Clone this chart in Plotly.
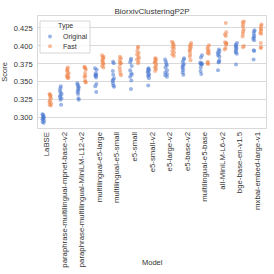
import plotly.graph_objects as go

models = [
    "LaBSE",
    "paraphrase-multilingual-mpnet-base-v2",
    "paraphrase-multilingual-MiniLM-L12-v2",
    "multilingual-e5-large",
    "multilingual-e5-small",
    "e5-small",
    "e5-small-v2",
    "e5-large-v2",
    "e5-base-v2",
    "multilingual-e5-base",
    "all-MiniLM-L6-v2",
    "bge-base-en-v1.5",
    "mxbai-embed-large-v1",
]

original_scores = [
    [0.305, 0.304, 0.302, 0.301, 0.300, 0.299, 0.298, 0.296, 0.294, 0.293],
    [0.344, 0.341, 0.338, 0.335, 0.333, 0.331, 0.329, 0.327, 0.325, 0.318],
    [0.348, 0.346, 0.344, 0.342, 0.340, 0.338, 0.336, 0.333, 0.327, 0.325],
    [0.369, 0.367, 0.362, 0.360, 0.359, 0.358, 0.356, 0.347, 0.344, 0.336],
    [0.378, 0.376, 0.365, 0.360, 0.355, 0.353, 0.351, 0.348, 0.345, 0.343],
    [0.382, 0.380, 0.377, 0.372, 0.366, 0.362, 0.360, 0.357, 0.352, 0.340],
    [0.369, 0.368, 0.366, 0.365, 0.363, 0.361, 0.359, 0.358, 0.355, 0.345],
    [0.381, 0.378, 0.375, 0.373, 0.370, 0.366, 0.363, 0.361, 0.359, 0.357],
    [0.383, 0.381, 0.378, 0.375, 0.373, 0.371, 0.369, 0.366, 0.363, 0.360],
    [0.387, 0.384, 0.377, 0.376, 0.375, 0.375, 0.374, 0.370, 0.365, 0.361],
    [0.395, 0.393, 0.391, 0.389, 0.387, 0.385, 0.380, 0.378, 0.377, 0.366],
    [0.404, 0.402, 0.400, 0.399, 0.397, 0.395, 0.393, 0.391, 0.389, 0.374],
    [0.422, 0.420, 0.417, 0.414, 0.412, 0.410, 0.408, 0.394, 0.393, 0.381],
]

fast_scores = [
    [0.333, 0.332, 0.331, 0.329, 0.327, 0.324, 0.322, 0.320, 0.318, 0.317],
    [0.370, 0.368, 0.366, 0.364, 0.362, 0.360, 0.358, 0.357, 0.356, 0.355],
    [0.371, 0.370, 0.369, 0.367, 0.362, 0.358, 0.357, 0.352, 0.350, 0.349],
    [0.387, 0.385, 0.384, 0.382, 0.380, 0.378, 0.376, 0.375, 0.372, 0.370],
    [0.385, 0.383, 0.380, 0.377, 0.376, 0.375, 0.370, 0.366, 0.362, 0.359],
    [0.399, 0.397, 0.393, 0.390, 0.388, 0.385, 0.383, 0.381, 0.378, 0.376],
    [0.383, 0.382, 0.380, 0.378, 0.377, 0.375, 0.372, 0.370, 0.368, 0.365],
    [0.406, 0.404, 0.402, 0.400, 0.398, 0.396, 0.393, 0.391, 0.388, 0.386],
    [0.404, 0.402, 0.400, 0.398, 0.396, 0.394, 0.392, 0.388, 0.385, 0.380],
    [0.401, 0.399, 0.396, 0.394, 0.392, 0.390, 0.389, 0.378, 0.376, 0.375],
    [0.432, 0.419, 0.416, 0.414, 0.405, 0.404, 0.403, 0.402, 0.397, 0.395],
    [0.434, 0.433, 0.430, 0.427, 0.423, 0.420, 0.417, 0.413, 0.400, 0.398],
    [0.430, 0.428, 0.425, 0.423, 0.421, 0.418, 0.417, 0.404, 0.398, 0.397],
]

types = ["Original", "Fast"]
colors = {"Original": "#4878d0", "Fast": "#ee854a"}
series = {"Original": original_scores, "Fast": fast_scores}
y_ticks = [0.300, 0.325, 0.350, 0.375, 0.400, 0.425]

FONT = "Liberation Sans, Arial, sans-serif"
TXT = "#333333"
GRID = "#d9d9d9"
FS = 7.5

fig = go.Figure()
for t in types:
    xs, ys = [], []
    for m, vals in zip(models, series[t]):
        xs += [m] * len(vals)
        ys += vals
    fig.add_trace(go.Box(
        x=xs, y=ys, name=t, offsetgroup=t,
        boxpoints="all", jitter=0.3, pointpos=0,
        fillcolor="rgba(0,0,0,0)", line=dict(width=0, color="rgba(0,0,0,0)"),
        marker=dict(color=colors[t], size=4, opacity=0.55, line=dict(width=0)),
        showlegend=False, hoverinfo="y",
    ))

# plot area in figure pixels
PL, PR, PT, PB = 38, 266, 16, 128
W, H = 274, 274


def px(x):
    return (x - PL) / (PR - PL)


def py(y):
    return (PB - y) / (PB - PT)


# legend drawn as a box with text and markers
shapes = [dict(type="rect", xref="paper", yref="paper",
               x0=px(40), x1=px(90), y0=py(53), y1=py(21),
               fillcolor="rgba(255,255,255,0.8)", line=dict(color="#cccccc", width=0.8),
               layer="above")]
annotations = [dict(text="Type", xref="paper", yref="paper", x=px(65), y=py(26),
                    xanchor="center", yanchor="middle", showarrow=False, borderpad=0,
                    font=dict(size=7, color=TXT))]
for i, t in enumerate(types):
    yy = py(36.5 + 9.7 * i)
    shapes.append(dict(type="circle", xref="paper", yref="paper",
                       xsizemode="pixel", ysizemode="pixel",
                       xanchor=px(50), yanchor=yy, x0=-2, x1=2, y0=-2, y1=2,
                       fillcolor=colors[t], opacity=0.55, line=dict(width=0),
                       layer="above"))
    annotations.append(dict(text=t, xref="paper", yref="paper", x=px(62), y=yy,
                            xanchor="left", yanchor="middle", showarrow=False,
                            borderpad=0, font=dict(size=7, color=TXT)))

# x-axis title placed below the rotated tick labels
annotations.append(dict(text="Model", xref="paper", yref="paper", x=0.5, y=py(262),
                        xanchor="center", yanchor="middle", showarrow=False,
                        borderpad=0, font=dict(size=FS, color=TXT)))

fig.update_layout(
    width=W, height=H,
    margin=dict(l=PL, r=W - PR, t=PT, b=H - PB),
    paper_bgcolor="white", plot_bgcolor="white",
    boxmode="group", boxgap=0.2, boxgroupgap=0,
    showlegend=False,
    font=dict(family=FONT, size=FS, color=TXT),
    title=dict(text="BiorxivClusteringP2P", x=0.5, xref="paper", xanchor="center",
               y=1, yref="paper", yanchor="bottom", pad=dict(b=2),
               font=dict(size=8, color=TXT)),
    shapes=shapes,
    annotations=annotations,
)
fig.update_xaxes(
    type="category", categoryorder="array", categoryarray=models,
    tickangle=-90, showgrid=False, showline=True, mirror=True,
    linecolor=GRID, linewidth=0.8, ticks="", ticklabeloverflow="allow",
    tickfont=dict(size=7.8, color=TXT),
    automargin=False,
)
fig.update_yaxes(
    range=[0.2857, 0.4417], tickvals=y_ticks, tickformat=".3f",
    showgrid=True, gridcolor=GRID, gridwidth=0.8,
    showline=True, mirror=True, linecolor=GRID, linewidth=0.8,
    zeroline=False, ticks="", ticklabelstandoff=3,
    tickfont=dict(size=FS, color=TXT),
    title=dict(text="Score", font=dict(size=FS, color=TXT)),
    automargin=False,
)

fig.write_html("out.html", config={"displayModeBar": False},
               post_script="document.body.style.margin='0';")
